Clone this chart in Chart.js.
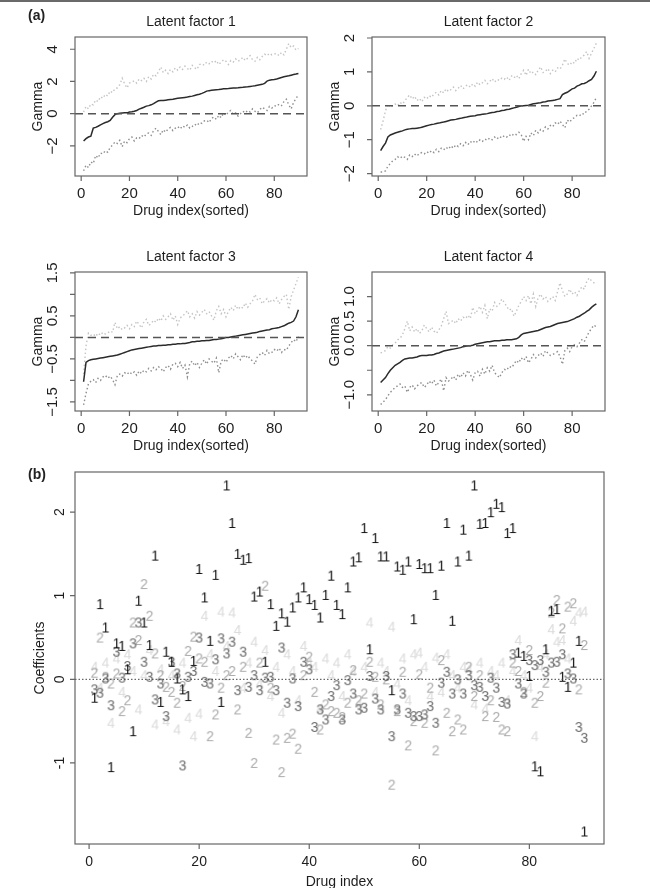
<!DOCTYPE html>
<html>
<head>
<meta charset="utf-8">
<script src="https://cdn.jsdelivr.net/npm/chart.js@4.4.1/dist/chart.umd.min.js"></script>
<style>
  body { margin: 0; background: #fff; }
  #page { position: relative; width: 650px; height: 888px; overflow: hidden; font-family: "Liberation Sans", Arial, sans-serif; }
  #page canvas { position: absolute; }
  .tag { position: absolute; font-weight: bold; font-size: 14px; color: #222; line-height: 16px; }
  #rule { position: absolute; left: 0; top: 0; width: 650px; height: 2px; background: #6a6a6a; }
</style>
</head>
<body>
<div id="page">
  <div id="rule"></div>
  <canvas id="lf1" width="325" height="230" style="left:0;top:0"></canvas>
  <canvas id="lf2" width="325" height="230" style="left:325px;top:0"></canvas>
  <canvas id="lf3" width="325" height="230" style="left:0;top:230px"></canvas>
  <canvas id="lf4" width="325" height="230" style="left:325px;top:230px"></canvas>
  <canvas id="coef" width="650" height="428" style="left:0;top:460px"></canvas>
  <div class="tag" style="left:28px;top:7px">(a)</div>
  <div class="tag" style="left:28px;top:466px">(b)</div>
</div>
<script>
// drug index 1..90 (sorted within each panel of (a))
const drugIndex = Array.from({ length: 90 }, (_, i) => i + 1);
const xTickVals = [0, 20, 40, 60, 80];

const lfTitles = ['Latent factor 1', 'Latent factor 2', 'Latent factor 3', 'Latent factor 4'];
const lfRanges = [[-3.87, 4.76], [-2.07, 2.03], [-1.71, 1.52], [-1.33, 1.50]];
const lfTickVals = [[-2, 0, 2, 4], [-2, -1, 0, 1, 2], [-1.5, -1, -0.5, 0, 0.5, 1, 1.5], [-1, -0.5, 0, 0.5, 1]];
const lfTickText = [['\u22122', '0', '2', '4'], ['\u22122', '\u22121', '0', '1', '2'],
  ['\u22121.5', '', '\u22120.5', '', '0.5', '', '1.5'], ['\u22121.0', '', '0.0', '0.5', '1.0']];

// latent factor 1: posterior median, upper and lower band
const med1 = [-1.70, -1.55, -1.45, -1.40, -0.90, -0.85, -0.78, -0.70, -0.62, -0.55,
  -0.50, -0.42, -0.22, -0.06, 0.00, 0.02, 0.04, 0.05, 0.05, 0.10,
  0.12, 0.15, 0.20, 0.28, 0.34, 0.40, 0.47, 0.50, 0.55, 0.62,
  0.72, 0.80, 0.81, 0.82, 0.84, 0.86, 0.88, 0.90, 0.93, 0.95,
  0.97, 0.99, 1.01, 1.03, 1.06, 1.09, 1.13, 1.17, 1.21, 1.26,
  1.32, 1.40, 1.43, 1.45, 1.47, 1.49, 1.50, 1.52, 1.54, 1.55,
  1.56, 1.58, 1.59, 1.60, 1.61, 1.63, 1.64, 1.66, 1.67, 1.69,
  1.71, 1.73, 1.76, 1.79, 1.82, 1.88, 2.02, 2.08, 2.10, 2.12,
  2.15, 2.20, 2.25, 2.29, 2.32, 2.35, 2.39, 2.43, 2.46, 2.50];
const upp1 = [0.10, 0.45, 0.30, 0.60, 0.55, 0.85, 0.75, 1.05, 0.95, 1.20,
  1.10, 1.40, 1.30, 1.55, 1.60, 1.80, 2.20, 1.85, 1.60, 1.90,
  1.95, 2.05, 1.90, 2.15, 2.05, 2.20, 2.00, 2.30, 2.15, 2.45,
  2.35, 2.60, 2.90, 2.55, 2.70, 2.50, 2.75, 2.60, 2.85, 2.70,
  2.90, 2.75, 2.95, 2.80, 2.70, 3.00, 2.85, 2.75, 3.05, 3.10,
  3.00, 3.20, 3.10, 3.25, 3.15, 3.30, 3.05, 3.20, 3.35, 3.25,
  3.05, 3.30, 3.20, 3.40, 3.25, 3.35, 3.50, 3.30, 3.45, 3.60,
  3.35, 3.25, 3.50, 3.35, 3.55, 3.70, 3.60, 3.75, 3.65, 3.70,
  3.75, 3.60, 3.80, 3.65, 4.00, 4.35, 4.10, 4.20, 3.95, 4.05];
const low1 = [-3.55, -3.20, -3.35, -3.00, -3.10, -2.60, -2.75, -2.45, -2.50, -2.30,
  -2.40, -2.10, -1.95, -1.75, -1.85, -1.65, -2.05, -1.70, -1.80, -1.55,
  -1.45, -1.70, -1.50, -1.55, -1.35, -1.45, -1.25, -1.20, -1.35, -1.05,
  -0.90, -1.10, -1.30, -1.00, -1.15, -0.95, -0.85, -1.05, -0.90, -0.80,
  -0.95, -0.75, -0.85, -0.70, -0.90, -0.80, -0.65, -0.75, -0.55, -0.60,
  -0.45, -0.40, -0.55, -0.30, -0.20, -0.35, -0.10, -0.25, 0.05, -0.10,
  0.10, 0.20, -0.05, 0.05, -0.15, 0.00, 0.15, 0.05, 0.20, 0.10,
  0.30, 0.15, 0.05, 0.25, 0.40, 0.30, 0.20, 0.45, 0.35, 0.50,
  0.45, 0.60, 0.50, 0.75, 0.90, 0.55, 0.30, 0.70, 0.95, 1.15];

// latent factor 2
const med2 = [-1.32, -1.20, -1.10, -0.92, -0.86, -0.83, -0.80, -0.78, -0.76, -0.74,
  -0.71, -0.69, -0.68, -0.67, -0.67, -0.66, -0.65, -0.63, -0.61, -0.59,
  -0.57, -0.55, -0.54, -0.52, -0.51, -0.49, -0.48, -0.46, -0.44, -0.42,
  -0.41, -0.40, -0.38, -0.37, -0.35, -0.34, -0.32, -0.31, -0.30, -0.29,
  -0.27, -0.26, -0.25, -0.24, -0.23, -0.21, -0.20, -0.19, -0.17, -0.16,
  -0.14, -0.13, -0.11, -0.10, -0.08, -0.06, -0.04, -0.02, 0.00, 0.00,
  0.01, 0.02, 0.04, 0.06, 0.07, 0.08, 0.09, 0.11, 0.12, 0.14,
  0.15, 0.16, 0.17, 0.19, 0.21, 0.33, 0.37, 0.40, 0.45, 0.50,
  0.52, 0.58, 0.61, 0.65, 0.66, 0.69, 0.74, 0.78, 0.88, 1.02];
const upp2 = [-0.70, -0.45, -0.15, 0.05, -0.05, 0.00, 0.05, 0.00, 0.10, 0.05,
  0.15, 0.25, 0.32, 0.20, 0.28, 0.15, 0.22, 0.12, 0.25, 0.20,
  0.30, 0.25, 0.35, 0.40, 0.32, 0.45, 0.38, 0.50, 0.42, 0.48,
  0.55, 0.45, 0.52, 0.60, 0.50, 0.58, 0.62, 0.55, 0.65, 0.58,
  0.70, 0.62, 0.68, 0.75, 0.65, 0.72, 0.80, 0.70, 0.78, 0.75,
  0.82, 0.78, 0.85, 0.75, 0.88, 0.82, 0.90, 0.80, 0.95, 1.05,
  0.90, 1.08, 0.95, 1.00, 0.92, 1.05, 1.15, 0.98, 1.02, 1.10,
  0.95, 1.05, 1.00, 1.12, 1.08, 1.20, 1.38, 1.25, 1.20, 1.30,
  1.25, 1.40, 1.35, 1.45, 1.50, 1.60, 1.40, 1.55, 1.70, 1.85];
const low2 = [-1.95, -1.95, -1.92, -1.78, -1.70, -1.62, -1.58, -1.50, -1.55, -1.48,
  -1.52, -1.58, -1.45, -1.50, -1.42, -1.48, -1.40, -1.38, -1.42, -1.35,
  -1.40, -1.32, -1.38, -1.28, -1.35, -1.25, -1.30, -1.22, -1.28, -1.18,
  -1.25, -1.15, -1.20, -1.12, -1.18, -1.08, -1.15, -1.05, -1.10, -1.02,
  -1.08, -1.00, -1.05, -0.98, -1.02, -0.95, -1.00, -0.92, -0.98, -0.90,
  -0.95, -0.88, -0.92, -0.85, -0.90, -0.82, -0.85, -0.78, -0.85, -1.05,
  -0.90, -1.00, -0.80, -0.88, -0.72, -0.80, -0.70, -0.75, -0.62, -0.68,
  -0.58, -0.62, -0.50, -0.55, -0.45, -0.55, -0.65, -0.42, -0.48, -0.38,
  -0.35, -0.28, -0.30, -0.22, -0.25, -0.15, -0.10, 0.00, 0.10, 0.25];

// latent factor 3
const med3 = [-1.03, -0.58, -0.54, -0.52, -0.51, -0.50, -0.49, -0.48, -0.47, -0.46,
  -0.45, -0.44, -0.43, -0.42, -0.41, -0.39, -0.37, -0.35, -0.33, -0.31,
  -0.29, -0.28, -0.27, -0.26, -0.25, -0.24, -0.23, -0.22, -0.21, -0.20,
  -0.20, -0.19, -0.19, -0.18, -0.18, -0.17, -0.17, -0.16, -0.16, -0.15,
  -0.15, -0.14, -0.14, -0.13, -0.12, -0.10, -0.10, -0.09, -0.09, -0.08,
  -0.08, -0.07, -0.07, -0.06, -0.05, -0.05, -0.04, -0.03, -0.02, 0.00,
  0.00, 0.01, 0.02, 0.03, 0.04, 0.05, 0.06, 0.07, 0.08, 0.09,
  0.10, 0.11, 0.12, 0.14, 0.15, 0.16, 0.17, 0.18, 0.20, 0.21,
  0.22, 0.23, 0.25, 0.27, 0.30, 0.33, 0.35, 0.38, 0.48, 0.64];
const upp3 = [-0.85, -0.20, 0.10, 0.05, 0.08, 0.02, 0.10, 0.05, 0.12, 0.08,
  0.10, 0.15, 0.12, 0.35, 0.20, 0.25, 0.18, 0.22, 0.28, 0.20,
  0.30, 0.25, 0.38, 0.30, 0.22, 0.36, 0.42, 0.28, 0.32, 0.40,
  0.35, 0.45, 0.38, 0.50, 0.42, 0.48, 0.55, 0.40, 0.50, 0.30,
  0.45, 0.50, 0.55, 0.62, 0.48, 0.55, 0.45, 0.60, 0.52, 0.58,
  0.65, 0.55, 0.60, 0.50, 0.40, 0.62, 0.72, 0.55, 0.65, 0.48,
  0.60, 0.70, 0.62, 0.75, 0.65, 0.72, 0.68, 0.80, 0.70, 0.78,
  0.85, 1.00, 0.88, 0.92, 0.78, 0.85, 0.90, 0.80, 0.88, 0.85,
  0.92, 0.78, 0.88, 0.95, 1.00, 0.65, 0.95, 1.10, 1.25, 1.40];
const low3 = [-1.57, -1.30, -1.08, -1.02, -0.98, -1.05, -0.95, -1.00, -0.92, -0.88,
  -0.95, -0.90, -0.98, -1.10, -0.88, -0.85, -0.90, -0.82, -0.86, -0.80,
  -0.85, -0.80, -0.88, -0.78, -0.84, -0.76, -0.80, -0.72, -0.78, -0.70,
  -0.75, -0.68, -0.72, -0.80, -0.70, -0.65, -0.74, -0.62, -0.60, -0.68,
  -0.58, -0.72, -0.64, -0.92, -0.60, -0.55, -0.66, -0.58, -0.70, -0.60,
  -0.52, -0.62, -0.50, -0.55, -0.60, -0.48, -0.82, -0.55, -0.50, -0.58,
  -0.48, -0.42, -0.50, -0.38, -0.45, -0.52, -0.40, -0.48, -0.42, -0.50,
  -0.55, -0.62, -0.45, -0.40, -0.35, -0.42, -0.30, -0.38, -0.35, -0.28,
  -0.32, -0.25, -0.35, -0.28, -0.30, -0.20, -0.12, -0.05, -0.10, 0.02];

// latent factor 4
const med4 = [-0.75, -0.70, -0.65, -0.57, -0.50, -0.45, -0.40, -0.37, -0.34, -0.30,
  -0.27, -0.26, -0.25, -0.25, -0.24, -0.23, -0.21, -0.20, -0.20, -0.20,
  -0.19, -0.19, -0.18, -0.16, -0.15, -0.13, -0.11, -0.10, -0.09, -0.08,
  -0.07, -0.06, -0.05, -0.04, -0.02, -0.01, 0.00, 0.00, 0.01, 0.03,
  0.04, 0.05, 0.06, 0.07, 0.08, 0.08, 0.09, 0.10, 0.10, 0.10,
  0.11, 0.11, 0.12, 0.12, 0.12, 0.13, 0.14, 0.17, 0.22, 0.25,
  0.26, 0.27, 0.28, 0.29, 0.30, 0.31, 0.33, 0.35, 0.37, 0.38,
  0.39, 0.41, 0.43, 0.45, 0.46, 0.47, 0.48, 0.49, 0.51, 0.53,
  0.55, 0.58, 0.60, 0.63, 0.66, 0.70, 0.73, 0.78, 0.82, 0.85];
const upp4 = [-0.15, -0.12, -0.10, -0.02, -0.05, 0.02, 0.05, 0.12, 0.15, 0.22,
  0.35, 0.50, 0.30, 0.38, 0.28, 0.35, 0.25, 0.30, 0.42, 0.35,
  0.28, 0.38, 0.30, 0.25, 0.32, 0.40, 0.55, 0.70, 0.45, 0.48,
  0.52, 0.45, 0.55, 0.50, 0.58, 0.55, 0.62, 0.55, 0.78, 0.65,
  0.72, 0.80, 0.68, 0.82, 0.55, 0.75, 0.70, 0.88, 0.80, 0.85,
  0.95, 0.88, 0.80, 0.72, 0.75, 0.60, 0.70, 0.82, 0.90, 1.00,
  0.92, 1.02, 0.85, 1.05, 0.80, 0.98, 1.05, 0.95, 1.00, 0.90,
  0.95, 1.00, 0.92, 1.10, 1.28, 1.12, 1.00, 1.05, 1.15, 1.05,
  1.10, 1.02, 1.12, 1.20, 1.15, 1.30, 1.38, 1.32, 1.28, 1.31];
const low4 = [-1.20, -1.15, -1.10, -1.02, -0.95, -0.90, -0.85, -0.82, -0.78, -0.85,
  -0.82, -0.95, -0.85, -0.80, -0.88, -0.82, -0.78, -0.75, -0.85, -0.80,
  -0.72, -0.78, -0.70, -0.82, -0.75, -0.68, -0.92, -0.65, -0.72, -0.68,
  -0.62, -0.70, -0.58, -0.65, -0.55, -0.62, -0.50, -0.58, -0.70, -0.55,
  -0.52, -0.62, -0.48, -0.58, -0.45, -0.52, -0.40, -0.55, -0.60, -0.65,
  -0.55, -0.48, -0.50, -0.42, -0.45, -0.38, -0.30, -0.35, -0.25, -0.30,
  -0.22, -0.35, -0.28, -0.18, -0.25, -0.20, -0.15, -0.22, -0.10, -0.15,
  -0.20, -0.18, -0.15, -0.12, -0.22, -0.38, -0.10, -0.05, -0.12, -0.02,
  0.02, -0.02, 0.05, 0.12, 0.08, 0.18, 0.28, 0.35, 0.42, 0.38];

// (b) coefficients of each drug on the four factors
const coefRange = [-1.97, 2.48];
const coefTickVals = [-1, 0, 1, 2];
const coefTickText = ['-1', '0', '1', '2'];
const coef1 = [-0.22, 0.90, 0.62, -1.05, 0.43, 0.40, 0.12, -0.62, 0.94, 0.68,
  0.41, 1.48, -0.27, 0.33, 0.21, 0.01, -0.12, -0.20, 0.22, 1.32,
  0.98, 0.46, 1.25, -0.27, 2.32, 1.87, 1.50, 1.43, 1.45, 0.99,
  1.05, 0.21, 0.90, 0.64, 0.79, 0.69, 0.86, 0.98, 1.10, 0.96,
  0.89, 0.74, 1.01, 1.24, 0.89, 0.78, 1.10, 1.41, 1.46, 1.81,
  0.36, 1.69, 1.47, 1.47, -0.13, 1.35, 1.31, 1.41, 0.72, 1.38,
  1.33, 1.33, 1.01, 1.36, 1.87, 0.70, 1.41, 1.79, 1.48, 2.32,
  1.86, 1.87, 2.00, 2.10, 2.06, 1.75, 1.81, 0.32, 0.28, 0.04,
  -1.04, -1.10, 0.36, 0.82, 0.84, 0.03, -0.09, 0.20, 0.46, -1.82];
const coef2 = [0.08, 0.50, 0.03, -0.05, 0.07, -0.38, -0.25, 0.68, 0.47, 1.14,
  0.76, 0.31, 0.05, -0.09, -0.15, -0.28, -0.08, 0.34, 0.51, 0.25,
  0.21, -0.68, -0.42, -0.10, 0.05, 0.10, -0.36, 0.15, -0.64, -1.00,
  0.20, 1.12, -0.10, -0.72, -1.11, -0.70, -0.65, -0.83, 0.05, 0.27,
  -0.15, -0.60, -0.30, -0.38, -0.40, -0.45, -0.28, 0.11, -0.25, -0.17,
  0.21, 0.03, -0.30, 0.00, -1.26, -0.38, 0.09, -0.79, -0.50, 0.06,
  -0.52, -0.10, -0.85, 0.23, -0.40, -0.62, -0.48, -0.60, 0.15, -0.20,
  0.05, -0.44, -0.25, -0.45, -0.60, -0.62, 0.20, 0.10, -0.15, 0.35,
  -0.28, -0.20, -0.04, 0.80, 0.95, 0.61, 0.87, 0.91, -0.12, 0.41];
const coef3 = [-0.12, -0.16, 0.01, -0.31, 0.33, 0.02, 0.16, 0.43, 0.68, 0.21,
  0.03, -0.24, -0.05, -0.44, 0.21, 0.07, -1.03, 0.03, 0.10, 0.50,
  -0.03, -0.05, 0.24, 0.49, 0.31, 0.45, -0.13, 0.33, -0.09, 0.05,
  -0.13, 0.02, 0.03, -0.13, 0.38, -0.28, 0.01, -0.32, 0.21, 0.12,
  -0.57, -0.36, -0.48, -0.20, -0.07, -0.48, -0.01, -0.17, -0.36, -0.34,
  0.04, -0.23, -0.36, 0.04, -0.68, -0.36, -0.17, -0.40, -0.44, -0.44,
  -0.42, -0.32, -0.52, -0.04, 0.09, -0.17, 0.00, -0.17, 0.05, -0.07,
  -0.09, -0.20, 0.02, -0.10, -0.27, -0.29, 0.30, -0.05, -0.17, 0.23,
  0.17, 0.23, 0.09, 0.20, 0.21, 0.30, 0.07, 0.01, -0.57, -0.70];
const coef4 = [0.15, -0.10, 0.20, -0.52, 0.25, -0.15, 0.30, 0.10, -0.36, 0.05,
  0.35, -0.54, 0.12, -0.50, 0.05, -0.60, 0.20, -0.46, -0.68, -0.41,
  0.76, 0.30, 0.10, 0.81, 0.40, 0.80, 0.59, -0.10, 0.20, 0.45,
  -0.05, 0.35, -0.20, 0.15, -0.40, 0.30, 0.10, -0.25, 0.40, 0.20,
  0.15, -0.35, 0.25, 0.05, 0.20, -0.20, 0.30, 0.10, -0.30, 0.15,
  0.68, -0.15, 0.20, 0.10, 0.63, -0.05, 0.25, -0.25, 0.30, 0.32,
  0.15, -0.20, 0.26, -0.15, 0.30, 0.05, -0.10, 0.15, 0.12, -0.30,
  0.20, -0.35, 0.10, 0.05, 0.20, -0.25, 0.10, 0.47, 0.05, -0.10,
  -0.68, 0.15, 0.30, 0.60, 0.45, 0.47, 0.25, 0.70, 0.80, 0.81];

const FONT = '"Liberation Sans", Arial, sans-serif';
const xRange = [-2.56, 93.56];

function pairs(vals) {
  return vals.map((v, i) => ({ x: drugIndex[i], y: v }));
}

// R-like box, ticks, rotated y labels and titles, drawn from the chart's scales
function frame(d) {
  return {
    id: 'frame',
    afterDatasetsDraw(chart) {
      const { ctx, chartArea: a } = chart;
      const y0 = chart.scales.y.getPixelForValue(0);
      ctx.save();
      ctx.strokeStyle = d.refColor;
      ctx.lineWidth = d.refWidth;
      ctx.setLineDash(d.refDash);
      ctx.beginPath();
      ctx.moveTo(a.left, y0);
      ctx.lineTo(a.right, y0);
      ctx.stroke();
      ctx.restore();
    },
    afterDraw(chart) {
      const { ctx, chartArea: a, scales: { x, y } } = chart;
      ctx.save();
      ctx.strokeStyle = '#666';
      ctx.lineWidth = 1.2;
      ctx.strokeRect(a.left, a.top, a.right - a.left, a.bottom - a.top);
      ctx.beginPath();
      xTickVals.forEach(v => {
        const px = x.getPixelForValue(v);
        ctx.moveTo(px, a.bottom);
        ctx.lineTo(px, a.bottom + 5);
      });
      d.yTicks.forEach(v => {
        const py = y.getPixelForValue(v);
        ctx.moveTo(a.left, py);
        ctx.lineTo(a.left - 5, py);
      });
      ctx.stroke();

      ctx.fillStyle = '#1e1e1e';
      ctx.textAlign = 'center';
      ctx.textBaseline = 'middle';
      ctx.font = d.tickFont;
      xTickVals.forEach(v => ctx.fillText(String(v), x.getPixelForValue(v), a.bottom + d.xGap));
      d.yTicks.forEach((v, i) => {
        if (!d.yText[i]) return;
        ctx.save();
        ctx.translate(a.left - d.yGap, y.getPixelForValue(v));
        ctx.rotate(-Math.PI / 2);
        ctx.fillText(d.yText[i], 0, 0);
        ctx.restore();
      });

      ctx.font = d.titleFont;
      const cx = (a.left + a.right) / 2;
      if (d.title) ctx.fillText(d.title, cx, a.top - 15);
      ctx.fillText(d.xTitle, cx, a.bottom + d.xTitleGap);
      ctx.save();
      ctx.translate(a.left - d.yTitleGap, (a.top + a.bottom) / 2);
      ctx.rotate(-Math.PI / 2);
      ctx.fillText(d.yTitle, 0, 0);
      ctx.restore();
      ctx.restore();
    }
  };
}

const lfSeries = [[med1, upp1, low1], [med2, upp2, low2], [med3, upp3, low3], [med4, upp4, low4]];
const lfPadding = [
  { left: 75, top: 37, right: 18, bottom: 54 },
  { left: 47, top: 37, right: 45, bottom: 54 },
  { left: 75, top: 42, right: 18, bottom: 49 },
  { left: 47, top: 42, right: 45, bottom: 49 }
];

lfSeries.forEach((s, k) => {
  new Chart(document.getElementById(`lf${k + 1}`), {
    type: 'line',
    data: {
      datasets: [
        { data: pairs(s[0]), borderColor: '#2b2b2b', borderWidth: 1.5 },
        { data: pairs(s[1]), borderColor: '#c4c4c4', borderWidth: 1.4, borderDash: [1.5, 2.5] },
        { data: pairs(s[2]), borderColor: '#8e8e8e', borderWidth: 1.4, borderDash: [1.5, 2.5] }
      ]
    },
    options: {
      responsive: false,
      animation: false,
      events: [],
      layout: { padding: lfPadding[k] },
      elements: { point: { radius: 0 }, line: { tension: 0 } },
      plugins: { legend: { display: false }, tooltip: { enabled: false } },
      scales: {
        x: { type: 'linear', display: false, min: xRange[0], max: xRange[1] },
        y: { type: 'linear', display: false, min: lfRanges[k][0], max: lfRanges[k][1] }
      }
    },
    plugins: [frame({
      title: lfTitles[k], xTitle: 'Drug index(sorted)', yTitle: 'Gamma',
      yTicks: lfTickVals[k], yText: lfTickText[k],
      tickFont: '15px ' + FONT, titleFont: '14px ' + FONT,
      xGap: 18, xTitleGap: 35, yGap: 22, yTitleGap: 37,
      refColor: '#555', refWidth: 1.5, refDash: [8, 5]
    })]
  });
});

// digits used as plotting symbols in (b)
function digitMark(ch, color) {
  const c = document.createElement('canvas');
  c.width = 11;
  c.height = 14;
  const g = c.getContext('2d');
  g.font = '14px ' + FONT;
  g.fillStyle = color;
  g.textAlign = 'center';
  g.textBaseline = 'alphabetic';
  g.fillText(ch, 5.5, 12);
  return c;
}

const coefSeries = [
  { vals: coef1, mark: digitMark('1', '#141414') },
  { vals: coef3, mark: digitMark('3', '#6c6c6c') },
  { vals: coef2, mark: digitMark('2', '#ababab') },
  { vals: coef4, mark: digitMark('4', '#dcdcdc') }
];

new Chart(document.getElementById('coef'), {
  type: 'scatter',
  data: {
    datasets: coefSeries.map(s => ({
      data: pairs(s.vals),
      pointStyle: s.mark,
      pointRadius: 6
    }))
  },
  options: {
    responsive: false,
    animation: false,
    events: [],
    layout: { padding: { left: 75, top: 12, right: 46, bottom: 44 } },
    plugins: { legend: { display: false }, tooltip: { enabled: false } },
    scales: {
      x: { type: 'linear', display: false, min: xRange[0], max: xRange[1] },
      y: { type: 'linear', display: false, min: coefRange[0], max: coefRange[1] }
    }
  },
  plugins: [frame({
    title: '', xTitle: 'Drug index', yTitle: 'Coefficients',
    yTicks: coefTickVals, yText: coefTickText,
    tickFont: '14px ' + FONT, titleFont: '14px ' + FONT,
    xGap: 18, xTitleGap: 38, yGap: 15, yTitleGap: 35,
    refColor: '#444', refWidth: 1, refDash: [1.5, 2]
  })]
});
</script>
</body>
</html>
